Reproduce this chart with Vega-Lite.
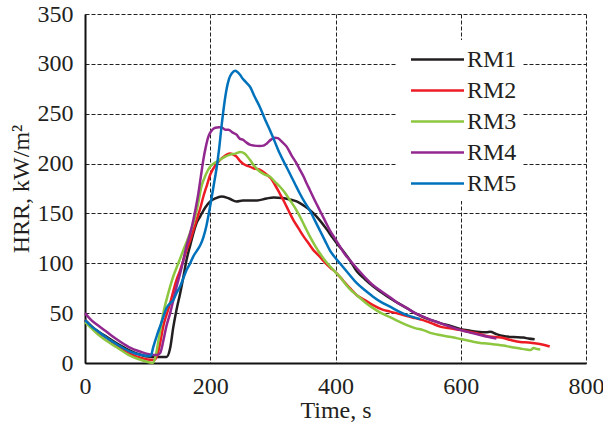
{
  "$schema": "https://vega.github.io/schema/vega-lite/v6.json",
  "width": 501,
  "height": 349,
  "padding": {"left": 9, "top": 2, "right": 0, "bottom": 2},
  "background": "white",
  "config": {
    "view": {"stroke": null},
    "font": "Liberation Serif",
    "axis": {
      "grid": true,
      "gridDash": [4, 2],
      "gridColor": "#222222",
      "gridWidth": 1,
      "domainColor": "#111111",
      "domainWidth": 2,
      "ticks": false,
      "labelFont": "Liberation Serif",
      "labelFontSize": 24,
      "labelColor": "#231f20",
      "titleFont": "Liberation Serif",
      "titleFontSize": 24,
      "titleFontWeight": "normal",
      "titleColor": "#231f20"
    }
  },
  "datasets": {
    "hrr": [
      {"s":"RM1","t":0,"v":43},{"s":"RM1","t":10,"v":37},{"s":"RM1","t":20,"v":32},{"s":"RM1","t":35,"v":26},{"s":"RM1","t":50,"v":20},{"s":"RM1","t":70,"v":13},{"s":"RM1","t":90,"v":8},{"s":"RM1","t":100,"v":6.5},{"s":"RM1","t":115,"v":6},{"s":"RM1","t":130,"v":6},{"s":"RM1","t":136,"v":15},{"s":"RM1","t":141,"v":36},{"s":"RM1","t":146,"v":53},{"s":"RM1","t":152,"v":70},{"s":"RM1","t":157,"v":86},{"s":"RM1","t":162,"v":103},{"s":"RM1","t":168,"v":118},{"s":"RM1","t":173,"v":130},{"s":"RM1","t":178,"v":140},{"s":"RM1","t":184,"v":147},{"s":"RM1","t":192,"v":156},{"s":"RM1","t":200,"v":162},{"s":"RM1","t":208,"v":165},{"s":"RM1","t":218,"v":167},{"s":"RM1","t":230,"v":165},{"s":"RM1","t":242,"v":162},{"s":"RM1","t":252,"v":163},{"s":"RM1","t":263,"v":163},{"s":"RM1","t":275,"v":163},{"s":"RM1","t":290,"v":165},{"s":"RM1","t":301,"v":166},{"s":"RM1","t":315,"v":165.5},{"s":"RM1","t":327,"v":164},{"s":"RM1","t":338,"v":162},{"s":"RM1","t":349,"v":158},{"s":"RM1","t":358,"v":154},{"s":"RM1","t":365,"v":150},{"s":"RM1","t":375,"v":143},{"s":"RM1","t":386,"v":134},{"s":"RM1","t":395,"v":126},{"s":"RM1","t":402,"v":120},{"s":"RM1","t":410,"v":114},{"s":"RM1","t":423,"v":103},{"s":"RM1","t":434,"v":92},{"s":"RM1","t":447,"v":84},{"s":"RM1","t":460,"v":77},{"s":"RM1","t":473,"v":71},{"s":"RM1","t":487,"v":65},{"s":"RM1","t":500,"v":60},{"s":"RM1","t":514,"v":55},{"s":"RM1","t":527,"v":50},{"s":"RM1","t":540,"v":46},{"s":"RM1","t":553,"v":43},{"s":"RM1","t":567,"v":40},{"s":"RM1","t":585,"v":37},{"s":"RM1","t":600,"v":34},{"s":"RM1","t":615,"v":32.4},{"s":"RM1","t":630,"v":31},{"s":"RM1","t":641,"v":30.8},{"s":"RM1","t":647,"v":31.4},{"s":"RM1","t":657,"v":29},{"s":"RM1","t":668,"v":27},{"s":"RM1","t":684,"v":26},{"s":"RM1","t":700,"v":25.5},{"s":"RM1","t":708,"v":24.5},{"s":"RM1","t":718,"v":23.7},

      {"s":"RM2","t":0,"v":43},{"s":"RM2","t":10,"v":37},{"s":"RM2","t":20,"v":31},{"s":"RM2","t":35,"v":25},{"s":"RM2","t":50,"v":18},{"s":"RM2","t":70,"v":10},{"s":"RM2","t":90,"v":5},{"s":"RM2","t":100,"v":3.5},{"s":"RM2","t":110,"v":3},{"s":"RM2","t":115,"v":7},{"s":"RM2","t":120,"v":20},{"s":"RM2","t":125,"v":37},{"s":"RM2","t":130,"v":48},{"s":"RM2","t":136,"v":60},{"s":"RM2","t":141,"v":72},{"s":"RM2","t":146,"v":83},{"s":"RM2","t":152,"v":93},{"s":"RM2","t":157,"v":103},{"s":"RM2","t":162,"v":113},{"s":"RM2","t":168,"v":123},{"s":"RM2","t":173,"v":133},{"s":"RM2","t":178,"v":143},{"s":"RM2","t":184,"v":155},{"s":"RM2","t":189,"v":167},{"s":"RM2","t":195,"v":179},{"s":"RM2","t":200,"v":189},{"s":"RM2","t":208,"v":198},{"s":"RM2","t":216,"v":204},{"s":"RM2","t":224,"v":208},{"s":"RM2","t":231,"v":210},{"s":"RM2","t":237,"v":209},{"s":"RM2","t":242,"v":207},{"s":"RM2","t":247,"v":203},{"s":"RM2","t":252,"v":200},{"s":"RM2","t":258,"v":198},{"s":"RM2","t":263,"v":197},{"s":"RM2","t":270,"v":195},{"s":"RM2","t":279,"v":194},{"s":"RM2","t":290,"v":189},{"s":"RM2","t":297,"v":185},{"s":"RM2","t":303,"v":179},{"s":"RM2","t":311,"v":170},{"s":"RM2","t":317,"v":163},{"s":"RM2","t":325,"v":153},{"s":"RM2","t":333,"v":143},{"s":"RM2","t":341,"v":135},{"s":"RM2","t":349,"v":127},{"s":"RM2","t":357,"v":120},{"s":"RM2","t":365,"v":113},{"s":"RM2","t":373,"v":108},{"s":"RM2","t":380,"v":103},{"s":"RM2","t":391,"v":96},{"s":"RM2","t":402,"v":90},{"s":"RM2","t":413,"v":82},{"s":"RM2","t":423,"v":75},{"s":"RM2","t":434,"v":68},{"s":"RM2","t":447,"v":63},{"s":"RM2","t":460,"v":58},{"s":"RM2","t":473,"v":54},{"s":"RM2","t":487,"v":51.5},{"s":"RM2","t":500,"v":49.5},{"s":"RM2","t":514,"v":47},{"s":"RM2","t":527,"v":45},{"s":"RM2","t":540,"v":43},{"s":"RM2","t":553,"v":40},{"s":"RM2","t":567,"v":36.5},{"s":"RM2","t":585,"v":34.5},{"s":"RM2","t":600,"v":33},{"s":"RM2","t":615,"v":31},{"s":"RM2","t":631,"v":29},{"s":"RM2","t":641,"v":27},{"s":"RM2","t":655,"v":26},{"s":"RM2","t":668,"v":25},{"s":"RM2","t":680,"v":23},{"s":"RM2","t":695,"v":21},{"s":"RM2","t":708,"v":20.5},{"s":"RM2","t":721,"v":19.5},{"s":"RM2","t":730,"v":18.5},{"s":"RM2","t":742,"v":16.5},

      {"s":"RM3","t":0,"v":41},{"s":"RM3","t":10,"v":35},{"s":"RM3","t":20,"v":29},{"s":"RM3","t":35,"v":22},{"s":"RM3","t":50,"v":16},{"s":"RM3","t":70,"v":8},{"s":"RM3","t":90,"v":3},{"s":"RM3","t":100,"v":1},{"s":"RM3","t":108,"v":0},{"s":"RM3","t":112,"v":5},{"s":"RM3","t":118,"v":25},{"s":"RM3","t":125,"v":50},{"s":"RM3","t":133,"v":70},{"s":"RM3","t":141,"v":87},{"s":"RM3","t":149,"v":100},{"s":"RM3","t":157,"v":113},{"s":"RM3","t":165,"v":126},{"s":"RM3","t":173,"v":140},{"s":"RM3","t":180,"v":158},{"s":"RM3","t":186,"v":177},{"s":"RM3","t":193,"v":189},{"s":"RM3","t":200,"v":197},{"s":"RM3","t":208,"v":201},{"s":"RM3","t":216,"v":204},{"s":"RM3","t":224,"v":207},{"s":"RM3","t":232,"v":209},{"s":"RM3","t":240,"v":210},{"s":"RM3","t":248,"v":211.5},{"s":"RM3","t":255,"v":210},{"s":"RM3","t":263,"v":204},{"s":"RM3","t":271,"v":197},{"s":"RM3","t":279,"v":192},{"s":"RM3","t":287,"v":189},{"s":"RM3","t":295,"v":187},{"s":"RM3","t":303,"v":182},{"s":"RM3","t":311,"v":177},{"s":"RM3","t":319,"v":171},{"s":"RM3","t":327,"v":163.5},{"s":"RM3","t":335,"v":156},{"s":"RM3","t":343,"v":147},{"s":"RM3","t":351,"v":137},{"s":"RM3","t":359,"v":127},{"s":"RM3","t":367,"v":118},{"s":"RM3","t":375,"v":110},{"s":"RM3","t":383,"v":103},{"s":"RM3","t":391,"v":97},{"s":"RM3","t":400,"v":91},{"s":"RM3","t":407,"v":86.5},{"s":"RM3","t":415,"v":80},{"s":"RM3","t":423,"v":74},{"s":"RM3","t":434,"v":68},{"s":"RM3","t":447,"v":61},{"s":"RM3","t":460,"v":55},{"s":"RM3","t":473,"v":50},{"s":"RM3","t":487,"v":46},{"s":"RM3","t":500,"v":42},{"s":"RM3","t":514,"v":38},{"s":"RM3","t":527,"v":35},{"s":"RM3","t":540,"v":33},{"s":"RM3","t":553,"v":30},{"s":"RM3","t":567,"v":28},{"s":"RM3","t":585,"v":26},{"s":"RM3","t":600,"v":24},{"s":"RM3","t":615,"v":22},{"s":"RM3","t":631,"v":20},{"s":"RM3","t":641,"v":19.5},{"s":"RM3","t":655,"v":18.5},{"s":"RM3","t":668,"v":17.5},{"s":"RM3","t":680,"v":16},{"s":"RM3","t":695,"v":14.5},{"s":"RM3","t":705,"v":13.5},{"s":"RM3","t":712,"v":13},{"s":"RM3","t":716,"v":15},{"s":"RM3","t":722,"v":14},{"s":"RM3","t":727,"v":13.5},

      {"s":"RM4","t":0,"v":50},{"s":"RM4","t":10,"v":43},{"s":"RM4","t":20,"v":38},{"s":"RM4","t":35,"v":31},{"s":"RM4","t":50,"v":24},{"s":"RM4","t":70,"v":16},{"s":"RM4","t":90,"v":11},{"s":"RM4","t":100,"v":9},{"s":"RM4","t":110,"v":8},{"s":"RM4","t":115,"v":8},{"s":"RM4","t":120,"v":10},{"s":"RM4","t":125,"v":22},{"s":"RM4","t":130,"v":37},{"s":"RM4","t":136,"v":50},{"s":"RM4","t":141,"v":63},{"s":"RM4","t":146,"v":76},{"s":"RM4","t":152,"v":90},{"s":"RM4","t":157,"v":103},{"s":"RM4","t":162,"v":117},{"s":"RM4","t":168,"v":130},{"s":"RM4","t":173,"v":143.5},{"s":"RM4","t":177,"v":156},{"s":"RM4","t":181,"v":170},{"s":"RM4","t":185,"v":187},{"s":"RM4","t":189,"v":204},{"s":"RM4","t":193,"v":217},{"s":"RM4","t":197,"v":227},{"s":"RM4","t":202,"v":233},{"s":"RM4","t":208,"v":236},{"s":"RM4","t":214,"v":236.5},{"s":"RM4","t":219,"v":236},{"s":"RM4","t":224,"v":234},{"s":"RM4","t":229,"v":234},{"s":"RM4","t":236,"v":231},{"s":"RM4","t":242,"v":229},{"s":"RM4","t":247,"v":225},{"s":"RM4","t":252,"v":224},{"s":"RM4","t":258,"v":221},{"s":"RM4","t":263,"v":219},{"s":"RM4","t":270,"v":218},{"s":"RM4","t":279,"v":217.6},{"s":"RM4","t":285,"v":218},{"s":"RM4","t":290,"v":220},{"s":"RM4","t":297,"v":224},{"s":"RM4","t":303,"v":226},{"s":"RM4","t":308,"v":225.5},{"s":"RM4","t":311,"v":224},{"s":"RM4","t":316,"v":221},{"s":"RM4","t":322,"v":217},{"s":"RM4","t":330,"v":208},{"s":"RM4","t":338,"v":200},{"s":"RM4","t":343,"v":194},{"s":"RM4","t":349,"v":187},{"s":"RM4","t":354,"v":180},{"s":"RM4","t":359,"v":173.5},{"s":"RM4","t":367,"v":163},{"s":"RM4","t":375,"v":153},{"s":"RM4","t":383,"v":143},{"s":"RM4","t":391,"v":133},{"s":"RM4","t":399,"v":125},{"s":"RM4","t":407,"v":117},{"s":"RM4","t":415,"v":109},{"s":"RM4","t":423,"v":103},{"s":"RM4","t":434,"v":95},{"s":"RM4","t":447,"v":86},{"s":"RM4","t":460,"v":78},{"s":"RM4","t":473,"v":72},{"s":"RM4","t":487,"v":66},{"s":"RM4","t":500,"v":60},{"s":"RM4","t":514,"v":55},{"s":"RM4","t":527,"v":50},{"s":"RM4","t":540,"v":46.5},{"s":"RM4","t":553,"v":43},{"s":"RM4","t":567,"v":40},{"s":"RM4","t":585,"v":36},{"s":"RM4","t":600,"v":33},{"s":"RM4","t":615,"v":30.5},{"s":"RM4","t":631,"v":28},{"s":"RM4","t":645,"v":26},{"s":"RM4","t":657,"v":24.5},

      {"s":"RM5","t":0,"v":43},{"s":"RM5","t":10,"v":37},{"s":"RM5","t":20,"v":32},{"s":"RM5","t":35,"v":25},{"s":"RM5","t":50,"v":19},{"s":"RM5","t":70,"v":12},{"s":"RM5","t":90,"v":8},{"s":"RM5","t":100,"v":7},{"s":"RM5","t":105,"v":7},{"s":"RM5","t":109,"v":16},{"s":"RM5","t":115,"v":28},{"s":"RM5","t":120,"v":37},{"s":"RM5","t":125,"v":46},{"s":"RM5","t":130,"v":55},{"s":"RM5","t":136,"v":60},{"s":"RM5","t":141,"v":63},{"s":"RM5","t":146,"v":70},{"s":"RM5","t":152,"v":77},{"s":"RM5","t":157,"v":85},{"s":"RM5","t":162,"v":93},{"s":"RM5","t":168,"v":100},{"s":"RM5","t":173,"v":107},{"s":"RM5","t":178,"v":112},{"s":"RM5","t":184,"v":118},{"s":"RM5","t":189,"v":126},{"s":"RM5","t":194,"v":138},{"s":"RM5","t":198,"v":151},{"s":"RM5","t":202,"v":165},{"s":"RM5","t":206,"v":180},{"s":"RM5","t":210,"v":195},{"s":"RM5","t":214,"v":214},{"s":"RM5","t":218.5,"v":240},{"s":"RM5","t":222,"v":258},{"s":"RM5","t":226.5,"v":276},{"s":"RM5","t":230,"v":285},{"s":"RM5","t":234.5,"v":290.5},{"s":"RM5","t":240,"v":293},{"s":"RM5","t":243,"v":292},{"s":"RM5","t":247.5,"v":289},{"s":"RM5","t":252,"v":285},{"s":"RM5","t":258,"v":281},{"s":"RM5","t":263.5,"v":277},{"s":"RM5","t":271,"v":267},{"s":"RM5","t":279,"v":257},{"s":"RM5","t":287,"v":245},{"s":"RM5","t":295,"v":234},{"s":"RM5","t":303,"v":222},{"s":"RM5","t":311,"v":210},{"s":"RM5","t":319,"v":200},{"s":"RM5","t":327,"v":190},{"s":"RM5","t":335,"v":180},{"s":"RM5","t":343,"v":170},{"s":"RM5","t":351,"v":161},{"s":"RM5","t":359,"v":153},{"s":"RM5","t":367,"v":143},{"s":"RM5","t":375,"v":133},{"s":"RM5","t":383,"v":123},{"s":"RM5","t":391,"v":113},{"s":"RM5","t":399,"v":106},{"s":"RM5","t":407,"v":100},{"s":"RM5","t":415,"v":94},{"s":"RM5","t":423,"v":88},{"s":"RM5","t":434,"v":80},{"s":"RM5","t":447,"v":73},{"s":"RM5","t":460,"v":66.5},{"s":"RM5","t":473,"v":61},{"s":"RM5","t":487,"v":56.5},{"s":"RM5","t":500,"v":52},{"s":"RM5","t":514,"v":48},{"s":"RM5","t":527,"v":45.5},{"s":"RM5","t":535,"v":44}
    ]
  },
  "data": {"name": "hrr"},
  "mark": {"type": "line", "strokeWidth": 2.5, "interpolate": "monotone"},
  "encoding": {
    "x": {
      "field": "t",
      "type": "quantitative",
      "scale": {"domain": [0, 800], "nice": false},
      "axis": {"values": [0, 200, 400, 600, 800], "title": "Time, s", "labelPadding": 11, "titlePadding": 0, "labelFlush": false}
    },
    "y": {
      "field": "v",
      "type": "quantitative",
      "scale": {"domain": [0, 350], "nice": false},
      "axis": {"values": [0, 50, 100, 150, 200, 250, 300, 350], "title": "HRR, kW/m²", "labelPadding": 12, "titlePadding": 4, "labelFlush": false}
    },
    "color": {
      "field": "s",
      "type": "nominal",
      "scale": {"domain": ["RM1", "RM2", "RM3", "RM4", "RM5"], "range": ["#231f20", "#ed1c24", "#8dc63f", "#92278f", "#0072bc"]},
      "legend": {
        "title": null,
        "orient": "none",
        "legendX": 312,
        "legendY": 26,
        "direction": "vertical",
        "fillColor": "white",
        "padding": 5,
        "symbolOffset": 21,
        "symbolType": "M -2 0 L 2 0",
        "symbolSize": 702,
        "symbolStrokeWidth": 2.5,
        "symbolFillColor": "transparent",
        "labelFont": "Liberation Serif",
        "labelFontSize": 24,
        "labelColor": "#231f20",
        "labelOffset": 15,
        "rowPadding": 4
      }
    }
  }
}
